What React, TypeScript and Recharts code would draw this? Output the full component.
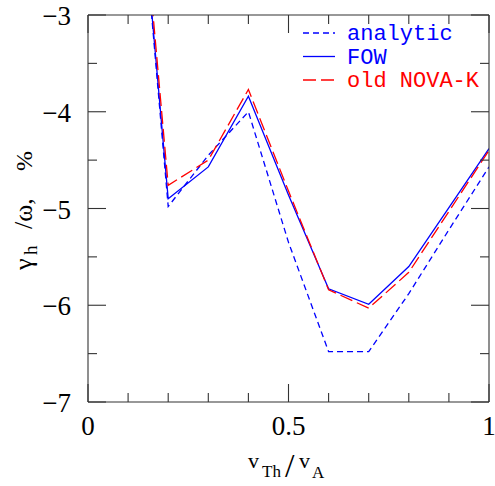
import React from 'react';
import { LineChart, Line, XAxis, YAxis, Legend } from 'recharts';

const xValues = [0.1, 0.2, 0.3, 0.4, 0.5, 0.6, 0.7, 0.8, 0.9, 1.0];
const analytic = [-0.2, -4.98, -4.45, -4.0, -5.35, -6.48, -6.48, -5.88, -5.22, -4.57];
const fow = [-0.2, -4.9, -4.57, -3.84, -4.86, -5.83, -5.99, -5.6, -4.99, -4.38];
const oldNova = [-0.1, -4.76, -4.5, -3.77, -4.82, -5.84, -6.03, -5.66, -5.03, -4.4];

const xTicks = [0, 0.1, 0.2, 0.3, 0.4, 0.5, 0.6, 0.7, 0.8, 0.9, 1];
const xMajor = [0, 0.5, 1];
const xMajorLabels = ['0', '0.5', '1'];
const yTicks = [-7, -6.5, -6, -5.5, -5, -4.5, -4, -3.5, -3];
const yMajor = [-7, -6, -5, -4, -3];
const yMajorLabels = ['\u22127', '\u22126', '\u22125', '\u22124', '\u22123'];

const seriesNames = ['analytic', 'FOW', 'old NOVA-K'];
const seriesKeys = ['analytic', 'fow', 'oldNova'];
const seriesColors = ['#0000ff', '#0000ff', '#ff0000'];
const seriesDash = ['6 4', undefined, '13 5'];

const data = xValues.map((x, i) => ({
  x,
  analytic: analytic[i],
  fow: fow[i],
  oldNova: oldNova[i],
}));

const AXIS = '#333';
const SERIF = '"Liberation Serif", "DejaVu Serif", serif';
const MONO = '"Liberation Mono", "DejaVu Sans Mono", monospace';

const findIdx = (arr: number[], v: number) => arr.findIndex((a) => Math.abs(a - v) < 1e-6);

const XTick = (props: any) => {
  const { x, y, payload, side } = props;
  const v = payload.value;
  const mi = findIdx(xMajor, v);
  const len = mi >= 0 ? 18 : 9;
  const dir = side === 'bottom' ? -1 : 1;
  return (
    <g>
      <line x1={x} y1={y} x2={x} y2={y + dir * len} stroke={AXIS} strokeWidth={1.1} />
      {side === 'bottom' && mi >= 0 && (
        <text x={x} y={y + 33} textAnchor="middle" fontSize={27} fontFamily={SERIF} fill="#000">
          {xMajorLabels[mi]}
        </text>
      )}
    </g>
  );
};

const YTick = (props: any) => {
  const { x, y, payload, side } = props;
  const v = payload.value;
  const mi = findIdx(yMajor, v);
  const len = mi >= 0 ? 18 : 9;
  const dir = side === 'left' ? 1 : -1;
  return (
    <g>
      <line x1={x} y1={y} x2={x + dir * len} y2={y} stroke={AXIS} strokeWidth={1.1} />
      {side === 'left' && mi >= 0 && (
        <text x={x - 17} y={y + 10} textAnchor="end" fontSize={27} fontFamily={SERIF} fill="#000">
          {yMajorLabels[mi]}
        </text>
      )}
    </g>
  );
};

const YLabel = () => {
  const cx = 32;
  const cy = 211;
  return (
    <text transform={`rotate(-90 ${cx} ${cy})`} fontFamily={SERIF} fill="#000">
      <tspan x={cx - 59} y={cy} fontSize={26}>γ</tspan>
      <tspan x={cx - 44} y={cy + 5} fontSize={19}>h</tspan>
      <tspan x={cx - 18} y={cy} fontSize={26}>/ω,</tspan>
      <tspan x={cx + 40} y={cy} fontSize={24}>%</tspan>
    </text>
  );
};

const XLabel = () => (
  <text fontFamily={SERIF} fill="#000">
    <tspan x={248} y={468} fontSize={22}>v</tspan>
    <tspan x={262} y={477} fontSize={17}>Th</tspan>
    <tspan x={285} y={477} fontSize={34}>/</tspan>
    <tspan x={299} y={468} fontSize={22}>v</tspan>
    <tspan x={312} y={478} fontSize={17}>A</tspan>
  </text>
);

const LegendContent = () => (
  <svg width={195} height={80} style={{ display: 'block' }}>
    {seriesNames.map((name, i) => {
      const ly = 13 + 23.5 * i;
      return (
        <g key={name}>
          <line x1={3} y1={ly} x2={35} y2={ly} stroke={seriesColors[i]} strokeWidth={1.3} strokeDasharray={seriesDash[i]} />
          <text x={47} y={ly + 7} fontSize={22} fontFamily={MONO} fill={seriesColors[i]}>
            {name}
          </text>
        </g>
      );
    })}
  </svg>
);

export default function App() {
  return (
    <div style={{ position: 'absolute', left: 0, top: 0, background: '#fff' }}>
      <LineChart width={495} height={486} data={data} margin={{ top: 14, right: 5, bottom: 83, left: 87 }}>
        <XAxis
          dataKey="x"
          type="number"
          domain={[0, 1]}
          ticks={xTicks}
          interval={0}
          height={1}
          tickSize={0}
          tickMargin={0}
          tickLine={false}
          axisLine={{ stroke: AXIS, strokeWidth: 1.1 }}
          tick={<XTick side="bottom" />}
          allowDataOverflow
          label={<XLabel />}
        />
        <XAxis
          xAxisId="top"
          orientation="top"
          dataKey="x"
          type="number"
          domain={[0, 1]}
          ticks={xTicks}
          interval={0}
          height={1}
          tickSize={0}
          tickMargin={0}
          tickLine={false}
          axisLine={{ stroke: AXIS, strokeWidth: 1.1 }}
          tick={<XTick side="top" />}
          allowDataOverflow
        />
        <YAxis
          type="number"
          domain={[-7, -3]}
          ticks={yTicks}
          interval={0}
          width={1}
          tickSize={0}
          tickMargin={0}
          tickLine={false}
          axisLine={{ stroke: AXIS, strokeWidth: 1.1 }}
          tick={<YTick side="left" />}
          allowDataOverflow
          label={<YLabel />}
        />
        <YAxis
          yAxisId="right"
          orientation="right"
          type="number"
          domain={[-7, -3]}
          ticks={yTicks}
          interval={0}
          width={1}
          tickSize={0}
          tickMargin={0}
          tickLine={false}
          axisLine={{ stroke: AXIS, strokeWidth: 1.1 }}
          tick={<YTick side="right" />}
          allowDataOverflow
        />
        <Legend
          layout="vertical"
          align="center"
          verticalAlign="middle"
          content={<LegendContent />}
          wrapperStyle={{ top: 20, left: 300, width: 195, height: 80 }}
        />
        {seriesKeys.map((k, i) => (
          <Line
            key={k}
            dataKey={k}
            type="linear"
            stroke={seriesColors[i]}
            strokeWidth={1.3}
            strokeDasharray={seriesDash[i]}
            dot={false}
            activeDot={false}
            isAnimationActive={false}
          />
        ))}
      </LineChart>
    </div>
  );
}
